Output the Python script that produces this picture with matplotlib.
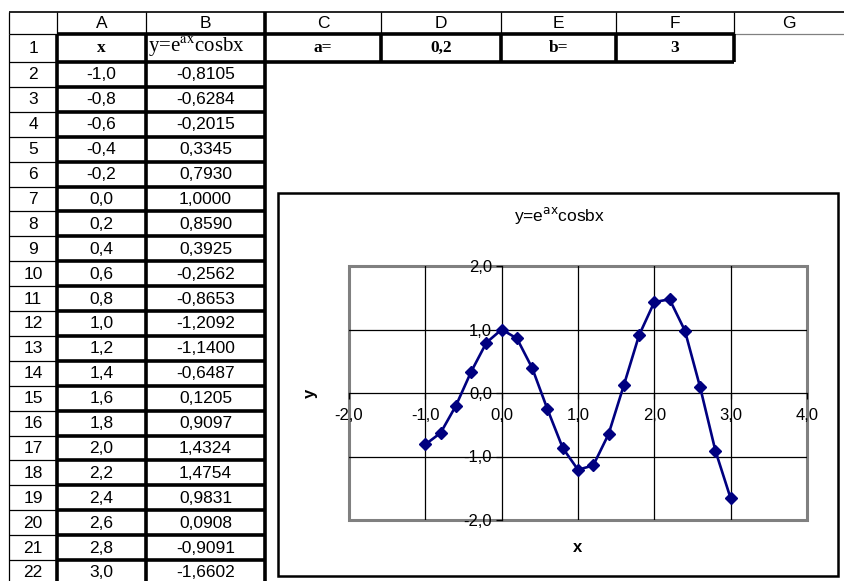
import matplotlib.pyplot as plt
from matplotlib.patches import Rectangle

# data from the sheet (columns A and B)
x_vals = [-1.0, -0.8, -0.6, -0.4, -0.2, 0.0, 0.2, 0.4, 0.6, 0.8, 1.0,
          1.2, 1.4, 1.6, 1.8, 2.0, 2.2, 2.4, 2.6, 2.8, 3.0]
y_vals = [-0.8105, -0.6284, -0.2015, 0.3345, 0.7930, 1.0000, 0.8590, 0.3925,
          -0.2562, -0.8653, -1.2092, -1.1400, -0.6487, 0.1205, 0.9097, 1.4324,
          1.4754, 0.9831, 0.0908, -0.9091, -1.6602]
col_letters = ['A', 'B', 'C', 'D', 'E', 'F', 'G']
row1_cells = ['x', 'y=e$^{\\mathrm{ax}}$cosbx', 'a=', '0,2', 'b=', '3']
x_ticks = [-2, -1, 0, 1, 2, 3, 4]
y_ticks = [-2, -1, 0, 1, 2]


def comma(v, n):
    return f'{v:.{n}f}'.replace('.', ',')


W, H = 844, 581
fig = plt.figure(figsize=(W / 100, H / 100), dpi=100)

# sheet drawn in pixel units
ax = fig.add_axes([0, 0, 1, 1])
ax.set_xlim(0, W)
ax.set_ylim(H, 0)
ax.axis('off')

col_edges = [9, 57, 146, 265, 381, 501, 616, 734, 844]
row_edges = [12, 34, 62] + [62 + 24.9 * k for k in range(1, 22)]
thin, thick = 0.9, 2.6
sans = 'Liberation Sans'
serif = 'Liberation Serif'
fs = 12.5

# header row
ax.hlines(12, 9, W, color='black', lw=1.2)
for x in col_edges[:-1]:
    ax.vlines(x, 12, 34, color='black', lw=thick if x == 265 else thin)
ax.hlines(34, 9, 57, color='black', lw=thin)
ax.hlines(34, 57, 734, color='black', lw=thick)
ax.hlines(34, 734, W, color='#808080', lw=thin)

# row 1
ax.vlines(9, 34, H, color='black', lw=thin)
for x in col_edges[1:8]:
    ax.vlines(x, 34, 62, color='black', lw=thick)
ax.hlines(62, 9, 57, color='black', lw=thin)
ax.hlines(62, 57, 734, color='black', lw=thick)

# rows 2..22
for x in [57, 146, 265]:
    ax.vlines(x, 62, H, color='black', lw=thick)
for y in row_edges[3:]:
    ax.hlines(y, 9, 57, color='black', lw=thin)
    ax.hlines(y, 57, 265, color='black', lw=thick)

# column letters
for i, c in enumerate(col_letters):
    cx = (col_edges[i + 1] + col_edges[i + 2]) / 2
    ax.text(cx, 23.5, c, ha='center', va='center', fontsize=fs, family=sans)

# row numbers
for i in range(22):
    cy = (row_edges[i + 1] + row_edges[i + 2]) / 2
    ax.text(33, cy + 0.5, str(i + 1), ha='center', va='center', fontsize=fs, family=sans)

# row 1 contents
for i, t in enumerate(row1_cells):
    cx = (col_edges[i + 1] + col_edges[i + 2]) / 2
    if i == 1:
        ax.text(148, 47, t, ha='left', va='center', fontsize=15, family=serif,
                math_fontfamily='stix')
    else:
        ax.text(cx, 48, t, ha='center', va='center', fontsize=12.5, family=serif,
                weight='bold')

# table values
for k, (xv, yv) in enumerate(zip(x_vals, y_vals)):
    cy = (row_edges[k + 2] + row_edges[k + 3]) / 2 + 0.5
    ax.text(101.5, cy, comma(xv, 1), ha='center', va='center', fontsize=fs, family=sans)
    ax.text(205.5, cy, comma(yv, 4), ha='center', va='center', fontsize=fs, family=sans)

# embedded chart frame
ax.add_patch(Rectangle((278, 193), 560, 383, facecolor='white', edgecolor='black', lw=1.8))
ax.text(560, 216, 'y=e$^{\\mathrm{ax}}$cosbx', ha='center', va='center', fontsize=12.5,
        family=sans, math_fontfamily='dejavusans')

# chart plot area
pl, pr, pt, pb = 349, 807, 266, 520
cax = fig.add_axes([pl / W, 1 - pb / H, (pr - pl) / W, (pb - pt) / H])
cax.set_xlim(-2, 4)
cax.set_ylim(-2, 2)
cax.set_facecolor('white')
cax.spines['top'].set_visible(False)
cax.spines['right'].set_visible(False)
cax.spines['left'].set_position(('data', 0))
cax.spines['bottom'].set_position(('data', 0))
cax.spines['left'].set_linewidth(0.9)
cax.spines['bottom'].set_linewidth(0.9)
cax.add_patch(Rectangle((0, 0), 1, 1, transform=cax.transAxes, fill=False,
                        edgecolor='#808080', lw=2.2, zorder=0.5, clip_on=False))
for gx in [-1, 1, 2, 3]:
    cax.axvline(gx, color='black', lw=0.9, zorder=0.6)
for gy in [-1, 1]:
    cax.axhline(gy, color='black', lw=0.9, zorder=0.6)

cax.set_xticks(x_ticks)
cax.set_yticks(y_ticks)
cax.set_xticklabels([comma(v, 1) for v in x_ticks], family=sans, fontsize=12)
cax.set_yticklabels([comma(v, 1) for v in y_ticks], family=sans, fontsize=12)
cax.tick_params(axis='x', direction='out', length=4, width=0.9, pad=7)
cax.tick_params(axis='y', direction='out', length=4, width=0.9, pad=3)

cax.plot(x_vals, y_vals, color='#000080', lw=1.9, marker='D', markersize=6.5,
         markerfacecolor='#000080', markeredgecolor='#000080', zorder=3, clip_on=False)

fig.text(578 / W, 1 - 548 / H, 'x', ha='center', va='center', fontsize=12,
         weight='bold', family=sans)
fig.text(310 / W, 1 - 393 / H, 'y', ha='center', va='center', fontsize=12,
         weight='bold', family=sans, rotation=90)

fig.savefig('out.png', dpi=100)
